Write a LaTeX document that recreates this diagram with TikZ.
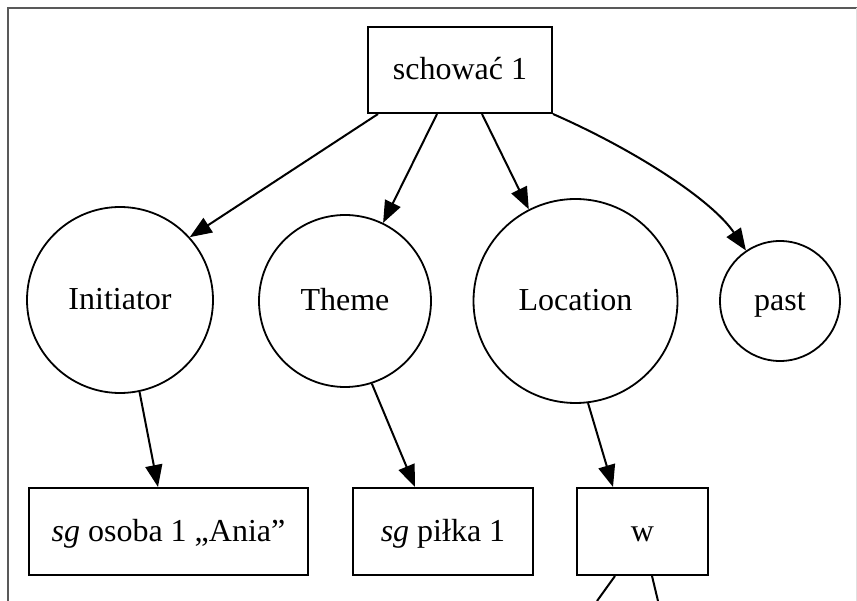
\documentclass[tikz,border=0pt]{standalone}
\usepackage{fontspec}
\setmainfont{Liberation Serif}
\usetikzlibrary{arrows.meta}
\begin{document}
\begin{tikzpicture}[x=1pt,y=-1pt,
  every node/.style={font=\fontsize{32}{38}\selectfont, inner sep=0pt,
    text height=23pt, text depth=3pt},
  box/.style={draw, line width=2pt, rectangle},
  role/.style={draw, line width=1.8pt, circle},
  link/.style={line width=2pt, -{Triangle[length=22pt,width=17pt]}},
  frameline/.style={line width=2.5pt, draw=black!65}]
\useasboundingbox (0,0) rectangle (857,601);
% frame
\draw[frameline] (8,601) -- (8,8) -- (857,8);
\draw[line width=0.8pt, draw=black!12] (856,8) -- (856,601);

% nodes
\node[box, minimum width=184pt, minimum height=86pt] (s) at (460,70) {schować 1};
\node[role, minimum size=186pt] (init) at (120,300) {Initiator};
\node[role, minimum size=172pt] (theme) at (345,301) {Theme};
\node[role, minimum size=204pt] (loc) at (575.5,301) {Location};
\node[role, minimum size=120pt] (past) at (780,301) {past};
\node[box, minimum width=279pt, minimum height=87pt] (osoba) at (168.5,531.5) {\textit{sg} osoba 1 „Ania”};
\node[box, minimum width=180pt, minimum height=87pt] (pilka) at (443,531.5) {\textit{sg} piłka 1};
\node[box, minimum width=131pt, minimum height=87pt] (w) at (642.5,531.5) {w};
\coordinate (wa) at (597,601);
\coordinate (wb) at (658,601);

% connectors
\draw[link] ([xshift=-82pt]s.south) -- (init.42);
\draw[link] ([xshift=-23pt]s.south) -- (theme.64);
\draw[link] ([xshift=22pt]s.south) -- (loc.117);
\draw[link] (s.south east) .. controls (635,150) and (712,200) .. (past.124);
\draw[link] (init.-78) -- ([xshift=-10.5pt]osoba.north);
\draw[link] (theme.-72) -- ([xshift=-28pt]pilka.north);
\draw[link] (loc.-83) -- ([xshift=-29.5pt]w.north);
\draw[line width=2pt] ([xshift=-27.5pt]w.south) -- (wa);
\draw[line width=2pt] ([xshift=9.5pt]w.south) -- (wb);
\end{tikzpicture}
\end{document}
